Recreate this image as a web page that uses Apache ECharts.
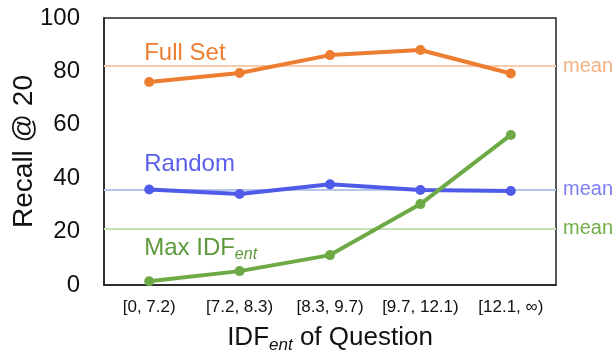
<!DOCTYPE html>
<html><head><meta charset="utf-8">
<script src="https://cdn.jsdelivr.net/npm/echarts@6/dist/echarts.min.js"></script>
<style>html,body{margin:0;padding:0;background:#fff}#c{width:616px;height:351px}</style>
</head><body><div id="c"></div>
<script>
const categories = ['[0, 7.2)', '[7.2, 8.3)', '[8.3, 9.7)', '[9.7, 12.1)', '[12.1, \u221e)'];
const fullSet = [76.0, 79.4, 86.1, 88.0, 79.2];
const random = [35.8, 34.1, 37.7, 35.6, 35.2];
const maxIdf = [1.4, 5.2, 11.2, 30.3, 56.2];
const meanFull = 82.0;
const meanRandom = 35.8;
const meanMaxIdf = 21.1;
const yTicks = [0, 20, 40, 60, 80, 100];

const FONT = 'Liberation Sans, Arial, sans-serif';
const chart = echarts.init(document.getElementById('c'), null, {renderer: 'canvas'});

function series(name, data, color, meanVal, meanLineColor, meanLabelColor, labelY, labelText, labelColor, z) {
  return {
    name, type: 'line', data, z,
    symbol: 'circle', symbolSize: 10,
    lineStyle: {color, width: 4},
    itemStyle: {color},
    markLine: {
      silent: true, symbol: 'none', z: 1,
      lineStyle: {color: meanLineColor, width: 2, type: 'solid'},
      label: {show: true, position: 'end', distance: 7, formatter: 'mean', color: meanLabelColor, fontSize: 20, fontFamily: FONT},
      data: [{yAxis: meanVal}]
    },
    markPoint: {
      silent: true, symbol: 'circle', symbolSize: 0,
      label: {show: true, position: 'right', distance: -5, formatter: labelText, color: labelColor, fontSize: 24, fontFamily: FONT,
        rich: {
          a: {fontSize: 24, fontFamily: FONT, color: labelColor, lineHeight: 30},
          s: {fontSize: 16, fontFamily: FONT, fontStyle: 'italic', color: labelColor, lineHeight: 30, verticalAlign: 'bottom', padding: [12, 0, 0, 0]}
        }},
      data: [{coord: [0, labelY]}]
    }
  };
}

chart.setOption({
  animation: false,
  backgroundColor: '#fff',
  grid: {left: 104, right: 60, top: 18, bottom: 66, show: true, borderColor: '#222', borderWidth: 1.5, containLabel: false, outerBoundsMode: 'none'},
  xAxis: {
    type: 'category', data: categories, boundaryGap: true,
    axisLine: {lineStyle: {color: '#222', width: 1.5}},
    axisTick: {show: false},
    axisLabel: {color: '#111', fontSize: 17, fontFamily: FONT, margin: 14, interval: 0},
    name: '{a|IDF}{s|ent}{a| of Question}', nameLocation: 'middle', nameGap: 37,
    nameTextStyle: {fontSize: 26, fontFamily: FONT, color: '#111',
      rich: {
        a: {fontSize: 26, fontFamily: FONT, color: '#111', lineHeight: 32},
        s: {fontSize: 17, fontFamily: FONT, fontStyle: 'italic', color: '#111', lineHeight: 32, verticalAlign: 'bottom', padding: [14, 0, 0, 0]}
      }}
  },
  yAxis: {
    type: 'value', min: 0, max: 100, interval: 20,
    axisLine: {show: true, lineStyle: {color: '#222', width: 1.5}},
    axisTick: {show: false},
    splitLine: {show: false},
    axisLabel: {color: '#111', fontSize: 24, fontFamily: FONT, margin: 24,
      formatter: v => yTicks.includes(v) ? String(v) : ''},
    name: 'Recall @ 20', nameLocation: 'middle', nameGap: 66, nameMoveOverlap: false,
    nameTextStyle: {fontSize: 28, fontFamily: FONT, color: '#111'}
  },
  series: [
    series('Full Set', fullSet, '#ED7D31', meanFull, '#F8CBAD', '#F4B183', 86.7, '{a|Full Set}', '#ED7D31', 3),
    series('Random', random, '#4F5BE8', meanRandom, '#B4C7E7', '#7B7FEF', 45.1, '{a|Random}', '#5B5FEA', 3),
    series('Max IDF', maxIdf, '#6DAA45', meanMaxIdf, '#C5E0B4', '#70AD47', 13.9, '{a|Max IDF}{s|ent}', '#5E9A3C', 4)
  ]
});
</script></body></html>
